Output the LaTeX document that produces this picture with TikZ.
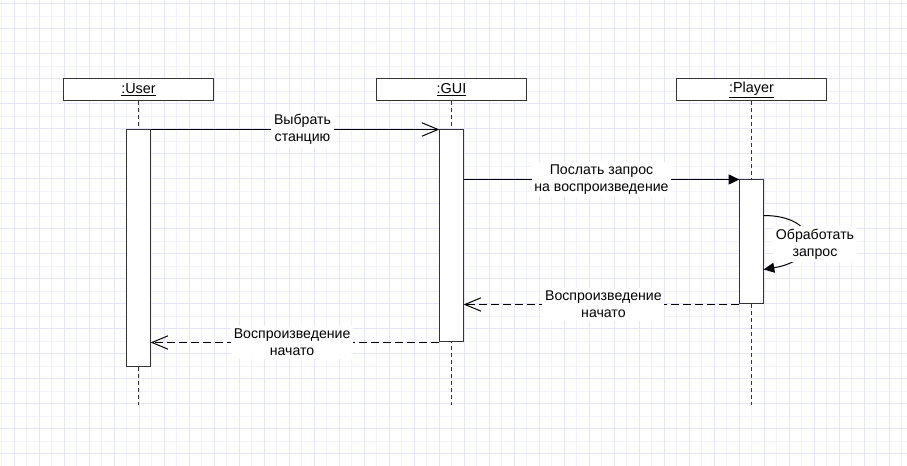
\documentclass[tikz,border=0pt]{standalone}
\usepackage{fontspec}
\setmainfont{Liberation Sans}
\usetikzlibrary{arrows.meta, positioning, calc}
\definecolor{gridmajor}{RGB}{228,228,250}
\definecolor{gridminor}{RGB}{242,242,253}
\definecolor{linegray}{RGB}{51,51,51}

\begin{document}
\begin{tikzpicture}[
  x=0.75pt, y=-0.75pt,
  head/.style={draw=linegray, fill=white, line width=0.75pt, minimum width=112.5pt, minimum height=16.5pt, inner sep=0pt, font=\fontsize{10.8}{12}\selectfont},
  actbox/.style={draw=linegray, fill=white, line width=0.75pt, minimum width=17.5pt, inner sep=0pt},
  lifeline/.style={linegray, line width=0.75pt, dash pattern=on 3pt off 2.25pt},
  msglabel/.style={fill=white, align=center, inner sep=2pt, font=\fontsize{10.6}{12.75}\selectfont},
  callmsg/.style={-{Triangle[length=8pt, width=7.5pt]}, black, line width=0.75pt},
  sendmsg/.style={-{Straight Barb[length=12pt, width=10pt]}, black, line width=0.75pt},
  replymsg/.style={sendmsg, dash pattern=on 6pt off 3pt},
  node distance=21pt
]
\useasboundingbox[fill=white] (0,0) rectangle (907,466);
\foreach \gx in {0,...,72} \draw[gridminor, line width=0.75pt] (1.5+12.5*\gx,0) -- ++(0,466);
\foreach \gy in {0,...,36} \draw[gridminor, line width=0.75pt] (0,4+12.5*\gy) -- ++(907,0);
\foreach \gx in {0,...,35} \draw[gridmajor, line width=0.75pt] (14+25*\gx,0) -- ++(0,466);
\foreach \gy in {0,...,18} \draw[gridmajor, line width=0.75pt] (0,4+25*\gy) -- ++(907,0);

\node[head] (UserHead) at (138.5,90) {\underline{:User}};
\node[head] (GUIHead) at (451.5,90) {\underline{:GUI}};
\node[head] (PlayerHead) at (751.5,90) {\underline{:Player}};
\coordinate (UserEnd) at (138.5,405);
\coordinate (GUIEnd) at (451.5,405);
\coordinate (PlayerEnd) at (751.5,405);
\draw[lifeline] (UserHead.south) -- (UserEnd);
\draw[lifeline] (GUIHead.south) -- (GUIEnd);
\draw[lifeline] (PlayerHead.south) -- (PlayerEnd);

\node[actbox, minimum height=177.75pt, below=of UserHead] (UserAct) {};
\node[actbox, minimum height=159pt, below=of GUIHead] (GUIAct) {};
\node[actbox, minimum height=93pt, below=58.5pt of PlayerHead] (PlayerAct) {};

\draw[sendmsg] (UserAct.north east) -- (GUIAct.north west) node[msglabel, pos=0.526] {Выбрать\\станцию};
\draw[callmsg] (GUIAct.east |- PlayerAct.north) -- (PlayerAct.north west) node[msglabel, midway] {Послать запрос\\на воспроизведение};
\coordinate (SelfOut) at ($(PlayerAct.north east)+(0,36)$);
\coordinate (SelfIn) at ($(PlayerAct.north east)+(0,90)$);
\draw[callmsg] (SelfOut) .. controls +(55,0) and +(60,-10) .. (SelfIn);
\node[msglabel] (SelfLbl) at (815,244) {Обработать\\запрос};
\draw[replymsg] (PlayerAct.south west) -- (GUIAct.east |- PlayerAct.south) node[msglabel, pos=0.493] {Воспроизведение\\начато};
\draw[replymsg] (GUIAct.south west) -- (UserAct.east |- GUIAct.south) node[msglabel, pos=0.51] {Воспроизведение\\начато};
\end{tikzpicture}
\end{document}
